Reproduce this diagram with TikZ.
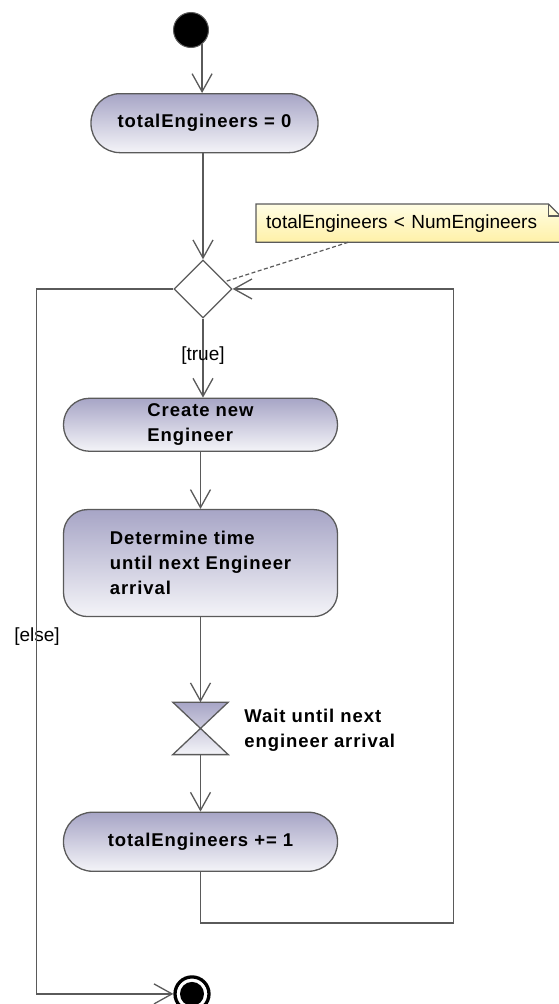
\documentclass[tikz,border=0pt]{standalone}
\usepackage{fontspec}
\setmainfont{Liberation Sans}
\newfontfamily\actfont[LetterSpace=5]{Liberation Sans}
\usetikzlibrary{arrows.meta,shapes.geometric,calc}
\definecolor{linegray}{RGB}{90,90,90}
\definecolor{acttop}{RGB}{167,165,198}
\definecolor{actbot}{RGB}{244,244,248}
\definecolor{notetop}{RGB}{255,253,228}
\definecolor{notebot}{RGB}{255,241,168}

\begin{document}
\begin{tikzpicture}[x=1pt,y=1pt]
\useasboundingbox (0,0) rectangle (559,-1004);
\begin{scope}

\tikzstyle{actnode} = [draw=linegray,line width=1.3pt,top color=acttop,bottom color=actbot,inner sep=0pt,align=left,font=\actfont\bfseries\fontsize{18.5pt}{25pt}\selectfont];
\tikzstyle{startnode} = [circle,fill=black,draw=linegray,line width=1pt,minimum size=35pt,inner sep=0pt];
\tikzstyle{endnode} = [circle,fill=white,draw=black,line width=3.3pt,minimum size=34pt,inner sep=0pt,path picture={\fill[black] (path picture bounding box.center) circle (12pt);}];
\tikzstyle{decnode} = [diamond,draw=linegray,line width=1.3pt,fill=white,minimum width=58pt,minimum height=58pt,inner sep=0pt];
\tikzstyle{notenode} = [rectangle,top color=notetop,bottom color=notebot,text width=284pt,inner sep=10pt,minimum height=38pt,align=left,font=\fontsize{19pt}{23pt}\selectfont];
\tikzstyle{guard} = [inner sep=0pt,font=\fontsize{19pt}{23pt}\selectfont];
\tikzstyle{flow} = [draw=linegray,line width=1.3pt,-{Straight Barb[length=18pt,width=20pt]}];
\tikzstyle{notelink} = [draw=linegray,line width=1.2pt,dash pattern=on 4pt off 2.5pt];

\node [startnode] (start) at (191,-30) {};
\node [actnode,anchor=north,minimum width=227pt,minimum height=59pt,rounded corners=29pt] (init) at ([xshift=13.5pt,yshift=-45pt]start.south) {totalEngineers = 0};
\node [decnode,anchor=north] (dec) at ([xshift=-1.5pt,yshift=-106pt]init.south) {};
\node [actnode,anchor=north,minimum width=274pt,minimum height=53pt,rounded corners=26pt] (create) at ([xshift=-2.5pt,yshift=-79pt]dec.south) {Create new\\Engineer};
\node [actnode,anchor=north,minimum width=274pt,minimum height=107pt,rounded corners=24pt] (det) at ([yshift=-57pt]create.south) {Determine time\\until next Engineer\\arrival};
\node [anchor=north,minimum width=55pt,minimum height=52pt,inner sep=0pt] (wait) at ([yshift=-85pt]det.south) {};
\node [actnode,anchor=north,minimum width=274pt,minimum height=59pt,rounded corners=29pt] (incr) at ([yshift=-57pt]wait.south) {totalEngineers += 1};
\node [endnode] (end) at ([xshift=-8.5pt,yshift=-122pt]incr.south) {};

\draw [line width=1.3pt,draw=linegray,top color=acttop,bottom color=actbot] (wait.north west) -- (wait.north east) -- (wait.south west) -- (wait.south east) -- cycle;
\node [anchor=west,inner sep=0pt,align=left,font=\actfont\bfseries\fontsize{18.5pt}{25pt}\selectfont] (waittext) at ([xshift=16pt,yshift=-1.5pt]wait.east) {Wait until next\\engineer arrival};

\node [notenode,anchor=south west,minimum width=304pt] (note) at ([xshift=53pt,yshift=17pt]dec.north) {totalEngineers < NumEngineers};
\fill [white] (note.north east) -- ([xshift=-12pt]note.north east) -- ([yshift=-12pt]note.north east) -- cycle;
\draw [draw=linegray,line width=1.2pt] (note.south west) -- (note.north west) -- ([xshift=-12pt]note.north east) -- ([yshift=-12pt]note.north east) -- (note.south east) -- cycle;
\draw [draw=linegray,line width=1.2pt] ([xshift=-12pt]note.north east) |- ([yshift=-12pt]note.north east);

\node [guard] (elselbl) at (37,-637) {[else]};

\draw [flow] (start.-52) -- (start.-52 |- init.north);
\draw [flow] (init.south -| dec.north) -- (dec.north);
\draw [flow] (dec.south) -- node [guard,pos=0.47] (truelbl) {[true]} (dec.south |- create.north);
\draw [flow] (create.south) -- (det.north);
\draw [flow] (det.south) -- (wait.north);
\draw [flow] (wait.south) -- (incr.north);
\draw [flow] (incr.south) -- ++(0,-51) -| ([xshift=221pt]dec.east) -- (dec.east);
\draw [flow] (dec.west) -- ++(-137,0) |- (end.west);
\draw [notelink] ([xshift=-60pt]note.south) -- ($(dec.north east)!0.5!(dec.east)$);

\end{scope}
\end{tikzpicture}
\end{document}
